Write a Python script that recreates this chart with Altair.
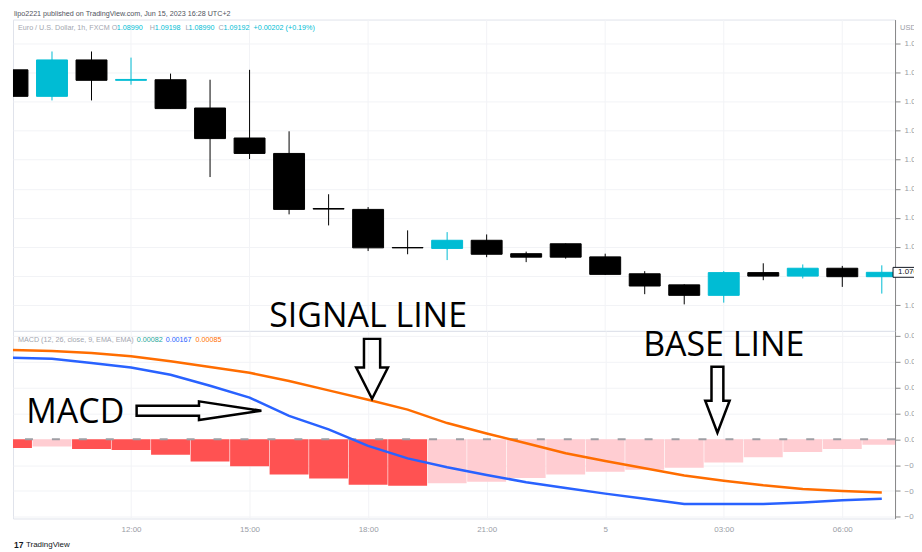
import json
import altair as alt
import pandas as pd

# ---------------- data ----------------
HOURS = list(range(23))  # hourly bars, hours after 09:00
TIME_LABELS = ["09:00", "12:00", "15:00", "18:00", "21:00", "5", "03:00", "06:00"]
TICK_HOURS = [3, 6, 9, 12, 15, 18, 21]

OPEN = [1.07708, 1.07617, 1.07742, 1.07672, 1.07674, 1.07577, 1.07474, 1.07421,
        1.07232, 1.07229, 1.07098, 1.07095, 1.07123, 1.07077, 1.07111, 1.07066,
        1.07008, 1.06970, 1.06934, 1.07012, 1.07000, 1.07027, 1.06998]
HIGH = [1.07708, 1.07771, 1.07771, 1.07750, 1.07695, 1.07674, 1.07708, 1.07497,
        1.07281, 1.07237, 1.07157, 1.07151, 1.07143, 1.07084, 1.07112, 1.07077,
        1.07017, 1.06972, 1.07017, 1.07044, 1.07040, 1.07035, 1.07037]
LOW = [1.07617, 1.07603, 1.07603, 1.07657, 1.07575, 1.07340, 1.07402, 1.07212,
       1.07174, 1.07086, 1.07075, 1.07055, 1.07065, 1.07048, 1.07060, 1.07004,
       1.06938, 1.06903, 1.06909, 1.06986, 1.06992, 1.06963, 1.06940]
CLOSE = [1.07617, 1.07742, 1.07672, 1.07675, 1.07575, 1.07472, 1.07421, 1.07229,
         1.07230, 1.07097, 1.07097, 1.07123, 1.07075, 1.07065, 1.07065, 1.07006,
         1.06966, 1.06934, 1.07012, 1.07000, 1.07027, 1.06998, 1.07013]

HIST = [-0.00017, -0.00014, -0.00019, -0.00021, -0.00030, -0.00043, -0.00052, -0.00068,
        -0.00076, -0.00088, -0.00090, -0.00085, -0.00082, -0.00075, -0.00068, -0.00063,
        -0.00059, -0.00055, -0.00045, -0.00035, -0.00025, -0.00019, -0.00011]
MACD = [0.00157, 0.00155, 0.00147, 0.00138, 0.00124, 0.00103, 0.00080, 0.00045,
        0.00019, -0.00013, -0.00037, -0.00054, -0.00069, -0.00083, -0.00094, -0.00105,
        -0.00115, -0.00125, -0.00125, -0.00125, -0.00122, -0.00118, -0.00115]
SIGNAL = [0.00172, 0.00170, 0.00166, 0.00160, 0.00150, 0.00139, 0.00128, 0.00112,
          0.00094, 0.00076, 0.00057, 0.00031, 0.00011, -0.00008, -0.00027, -0.00042,
          -0.00056, -0.00070, -0.00080, -0.00089, -0.00096, -0.00100, -0.00103]

PRICE_TICKS = [1.069, 1.070, 1.071, 1.072, 1.073, 1.074, 1.075, 1.076, 1.077, 1.078]
MACD_TICKS = [-0.0015, -0.0010, -0.0005, 0.0, 0.0005, 0.0010, 0.0015, 0.0020]

PUBLISHER = "lipo2221 published on TradingView.com, Jun 15, 2023 16:28 UTC+2"
HEADER_TXT = ["Euro / U.S. Dollar, 1h, FXCM", "O", "1.08990", "H", "1.09198",
              "L", "1.08990", "C", "1.09192", "+0.00202 (+0.19%)"]
MACD_HDR_TXT = ["MACD (12, 26, close, 9, EMA, EMA)", "0.00082", "0.00167", "0.00085"]

# annotations (position in data units)
ANN_SIGNAL = {"txt": "SIGNAL LINE", "t": 9.0, "v": 1.06826}
ANN_BASE = {"txt": "BASE LINE", "t": 18.0, "v": 0.00161}
ANN_MACD = {"txt": "MACD", "t": 1.59, "v": 0.00032}
ARROW_SIGNAL = {"t": 9.10, "v": 0.001356}
ARROW_BASE = {"t": 17.84, "v": 0.00076}
ARROW_MACD = {"t": 4.72, "v": 0.000548}

# ---------------- styling / layout ----------------
W, H1, H2 = 884, 312, 188
UP, DOWN = "#00BCD4", "#000000"
GRID = "#f2f3f6"
AXLAB = "#9a9da6"
HDRGRAY = "#a3a6af"
SMALL = "Liberation Sans"
BIG = "Open Sans"
SF = 7.2

candles = pd.DataFrame({"t": HOURS, "o": OPEN, "h": HIGH, "l": LOW, "c": CLOSE})
candles["col"] = [UP if c >= o else DOWN for o, c in zip(OPEN, CLOSE)]

shade = []
for i, v in enumerate(HIST):
    shade.append("#FFCDD2" if i > 0 and v > HIST[i - 1] else "#FF5252")
macd_df = pd.DataFrame({"t": HOURS, "hist": HIST, "macd": MACD, "signal": SIGNAL, "col": shade})
ticks_df = pd.DataFrame({"t": TICK_HOURS})

XS = alt.Scale(domain=[0.013, 22.335], nice=False, zero=False, padding=0)
YS1 = alt.Scale(domain=[1.06812, 1.078805], nice=False, zero=False)
YS2 = alt.Scale(domain=[-0.001529, 0.002087], nice=False, zero=False)

lab_expr = json.dumps(TIME_LABELS) + "[round(datum.value/3)]"
x_axis_bot = alt.Axis(values=TICK_HOURS, labelExpr=lab_expr, ticks=False, domain=False,
                      grid=True, title=None, labelPadding=7)
y_axis_top = alt.Axis(orient="right", values=PRICE_TICKS, title=None, grid=True,
                      labelExpr="abs(datum.value - 1.07) < 0.00001 ? '' : format(datum.value, '.5f')",
                      labelPadding=4)
y_axis_bot = alt.Axis(orient="right", values=MACD_TICKS, title=None, grid=True,
                      format=".5f", labelPadding=4)

xt = lambda f="t": alt.X(f"{f}:Q", scale=XS, axis=None)
xb = lambda f="t": alt.X(f"{f}:Q", scale=XS, axis=x_axis_bot)
hexcol = alt.Color("col:N", scale=None)

# ---- top panel ----
vgrid = alt.Chart(ticks_df).mark_rule(color=GRID, strokeWidth=1).encode(x=xt())
wicks = alt.Chart(candles).mark_rule(clip=True, strokeWidth=1).encode(
    x=xt(), y=alt.Y("l:Q", scale=YS1, axis=y_axis_top), y2="h:Q", color=hexcol)
bodies = alt.Chart(candles).mark_bar(clip=True, size=31, strokeWidth=1).encode(
    x=xt(), y=alt.Y("o:Q", scale=YS1, axis=y_axis_top), y2="c:Q",
    color=hexcol, stroke=alt.Stroke("col:N", scale=None))

pub = alt.Chart(pd.DataFrame({"txt": [PUBLISHER]})).mark_text(
    align="left", baseline="middle", font=SMALL, fontSize=SF, color="#50535e").encode(
    x=alt.value(1), y=alt.value(-6), text="txt:N")

hdr_df = pd.DataFrame({
    "txt": HEADER_TXT,
    "px": [5, 99, 104, 137, 142, 173, 176, 206, 211, 241],
    "col": [HDRGRAY, HDRGRAY, UP, HDRGRAY, UP, HDRGRAY, UP, HDRGRAY, UP, UP],
})
hdr = alt.Chart(hdr_df).mark_text(align="left", baseline="middle", font=SMALL, fontSize=SF).encode(
    x=alt.X("px:Q", scale=None), y=alt.value(8), text="txt:N", color=hexcol)

usd = alt.Chart(pd.DataFrame({"txt": ["USD"]})).mark_text(
    align="left", baseline="middle", font=SMALL, fontSize=7.5, color=AXLAB).encode(
    x=alt.value(W + 5), y=alt.value(8), text="txt:N")

last = candles.tail(1)
pbox = alt.Chart(last).mark_point(
    shape="M -1 -0.31 L 1 -0.31 L 1 0.31 L -1 0.31 Z", size=1024, filled=True,
    fill="white", stroke="#131722", strokeWidth=1, opacity=1).encode(
    x=alt.value(W + 14), y=alt.Y("c:Q", scale=YS1, axis=y_axis_top))
ptext = alt.Chart(last).mark_text(align="left", baseline="middle", font=SMALL,
                                  fontSize=8, color="#131722").encode(
    x=alt.value(W + 3), y=alt.Y("c:Q", scale=YS1, axis=y_axis_top),
    text=alt.Text("c:Q", format=".5f"))

sig_txt = alt.Chart(pd.DataFrame([ANN_SIGNAL])).mark_text(
    align="center", baseline="alphabetic", font=BIG, fontSize=34, color="black").encode(
    x=xt(), y=alt.Y("v:Q", scale=YS1, axis=y_axis_top), text="txt:N")

top = alt.layer(vgrid, wicks, bodies, hdr, pub, usd, pbox, ptext, sig_txt).properties(
    width=W, height=H1)

# ---- bottom panel ----
bars = alt.Chart(macd_df).mark_bar(clip=True, size=39).encode(
    x=xb(), y=alt.Y("hist:Q", scale=YS2, axis=y_axis_bot), y2=alt.datum(0), color=hexcol)
zero = alt.Chart(pd.DataFrame({"z": [0.0]})).mark_rule(
    strokeDash=[8, 19], strokeWidth=2, color="#9e9ea4").encode(
    y=alt.Y("z:Q", scale=YS2, axis=y_axis_bot))
sig_line = alt.Chart(macd_df).mark_line(clip=True, strokeWidth=2.5, color="#FF6D00").encode(
    x=xb(), y=alt.Y("signal:Q", scale=YS2, axis=y_axis_bot))
macd_line = alt.Chart(macd_df).mark_line(clip=True, strokeWidth=2.5, color="#2962FF").encode(
    x=xb(), y=alt.Y("macd:Q", scale=YS2, axis=y_axis_bot))

ann_df = pd.DataFrame([ANN_BASE, ANN_MACD])
ann = alt.Chart(ann_df).mark_text(align="center", baseline="alphabetic", font=BIG,
                                  fontSize=34, color="black").encode(
    x=xb(), y=alt.Y("v:Q", scale=YS2, axis=y_axis_bot), text="txt:N")


def arrow(pos, path, size):
    return alt.Chart(pd.DataFrame([pos])).mark_point(
        shape=path, size=size, filled=False, stroke="black", strokeWidth=2.5, opacity=1).encode(
        x=xb(), y=alt.Y("v:Q", scale=YS2, axis=y_axis_bot))


arr1 = arrow(ARROW_SIGNAL,
             "M -0.27 -1 L 0.27 -1 L 0.27 -0.04 L 0.53 -0.04 L 0 1 L -0.53 -0.04 L -0.27 -0.04 Z",
             3600)
arr2 = arrow(ARROW_BASE,
             "M -0.18 -1 L 0.18 -1 L 0.18 0.03 L 0.37 0.03 L 0 1 L -0.37 0.03 L -0.18 0.03 Z",
             4356)
arr3 = arrow(ARROW_MACD,
             "M -1 -0.08 L 0 -0.08 L 0 -0.15 L 1 0 L 0 0.15 L 0 0.08 L -1 0.08 Z",
             15625)

mhdr_df = pd.DataFrame({
    "txt": MACD_HDR_TXT,
    "px": [5, 124, 153, 183],
    "col": [HDRGRAY, "#26A69A", "#2962FF", "#FF6D00"],
})
mhdr = alt.Chart(mhdr_df).mark_text(align="left", baseline="middle", font=SMALL, fontSize=SF).encode(
    x=alt.X("px:Q", scale=None), y=alt.value(9), text="txt:N", color=hexcol)

logo = alt.Chart(pd.DataFrame({"txt": ["17"]})).mark_text(
    align="left", baseline="middle", font=SMALL, fontSize=8.5, fontWeight="bold",
    color="#131722").encode(x=alt.value(1), y=alt.value(215), text="txt:N")
foot = alt.Chart(pd.DataFrame({"txt": ["TradingView"]})).mark_text(
    align="left", baseline="middle", font=SMALL, fontSize=8, color="#131722").encode(
    x=alt.value(13), y=alt.value(215), text="txt:N")

bottom = alt.layer(bars, zero, sig_line, macd_line, ann, arr1, arr2, arr3, mhdr, logo, foot).properties(
    width=W, height=H2)

chart = alt.vconcat(top, bottom, spacing=0, bounds="flush").properties(
    padding={"left": 3, "top": 0, "right": -25, "bottom": 0},
    background="white",
).configure_view(stroke="#e0e3eb").configure_axis(
    labelFont=SMALL, labelFontSize=8, labelColor=AXLAB, gridColor=GRID, gridWidth=1,
)

chart.save("out.html", embed_options={"renderer": "svg", "actions": False})
